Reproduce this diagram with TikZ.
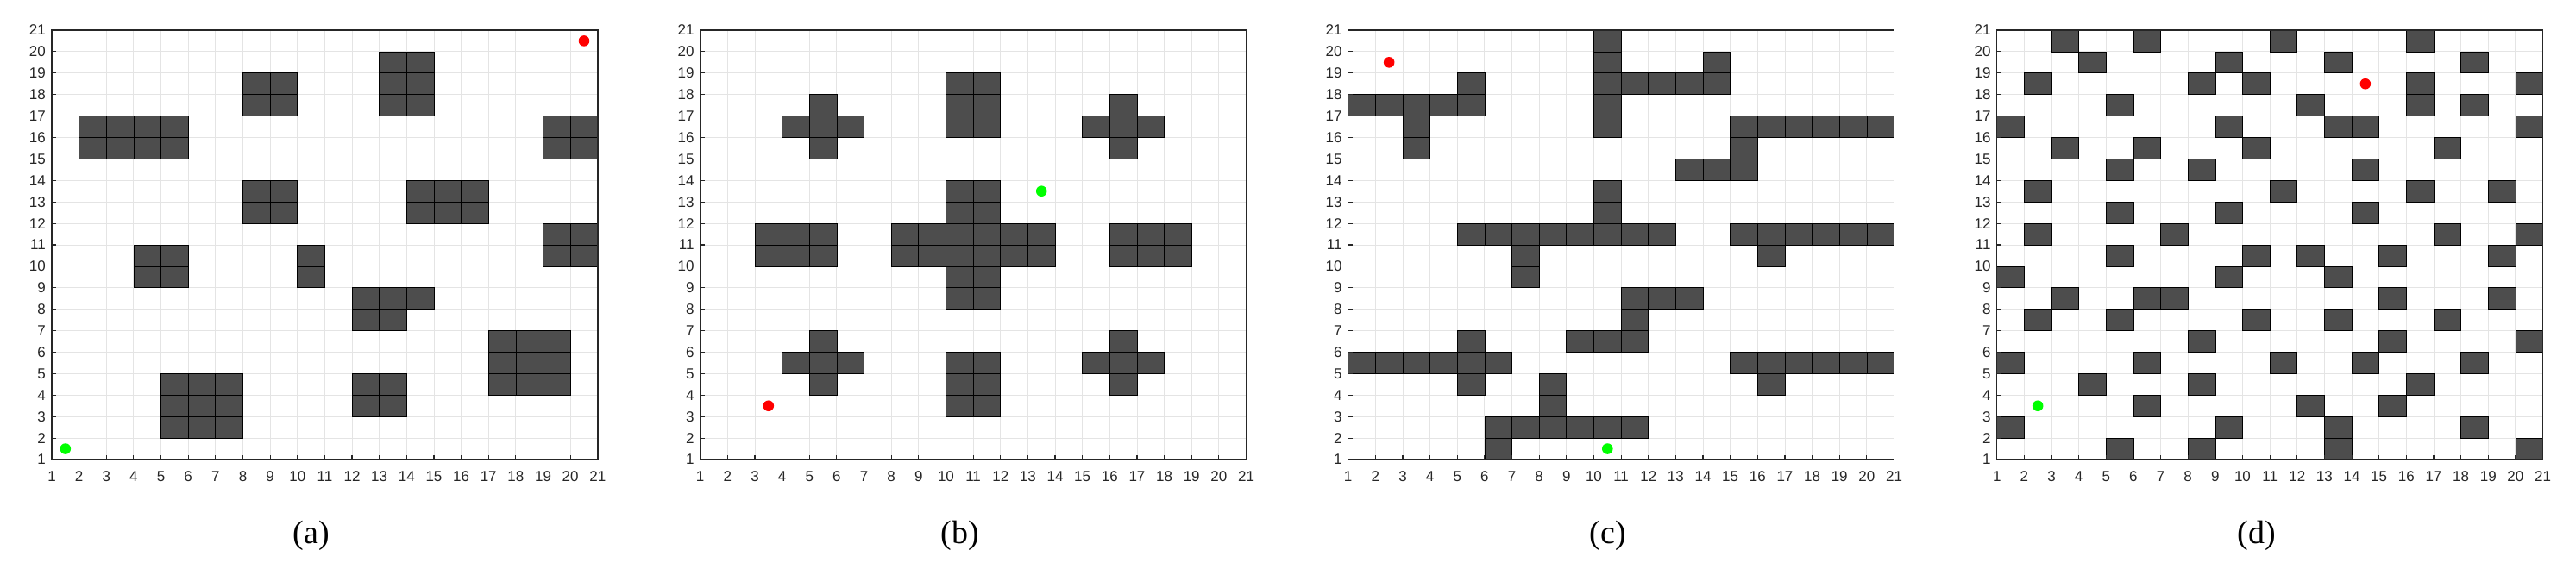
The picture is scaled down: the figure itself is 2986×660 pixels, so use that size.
\documentclass[tikz,border=0pt]{standalone}
\usepackage{fontspec}
\newfontfamily\tickf{Liberation Sans}
\newfontfamily\capf{Liberation Serif}
\definecolor{gridc}{RGB}{228,228,228}
\definecolor{axc}{RGB}{38,38,38}
\definecolor{obstc}{RGB}{77,77,77}
\definecolor{startc}{RGB}{0,255,0}
\definecolor{goalc}{RGB}{255,0,0}
\tikzset{
 gridln/.style={draw=gridc, line width=0.9pt},
 axisbox/.style={draw=axc, line width=1.5pt},
 tickln/.style={draw=axc, line width=1.1pt},
 obst/.style={fill=obstc, draw=black, line width=0.7pt},
 ticklab/.style={font=\tickf\fontsize{17}{20}\selectfont, text=axc, inner sep=0pt},
 caplab/.style={font=\capf\fontsize{38}{44}\selectfont, inner sep=0pt, anchor=base},
 startdot/.style={fill=startc},
 goaldot/.style={fill=goalc},
 panelsc/.style={x=31.64pt, y=24.9pt, xshift=#1, yshift=102.1pt}
}
\newcommand\blk[4]{\foreach \i in {#1,...,#2}{\foreach \j in {#3,...,#4}{\draw[obst] (\i,\j) rectangle ++(1,1);}}}
\newcommand\gridbg{\foreach \v in {1,...,21}{\draw[gridln] (\v,1) -- (\v,21); \draw[gridln] (1,\v) -- (21,\v);}}
\newcommand\axdeco[1]{%
 \draw[axisbox] (1,1) rectangle (21,21);
 \foreach \v in {1,...,21}{
   \draw[tickln] (\v,1) -- ++(0,5pt);
   \draw[tickln] (1,\v) -- ++(5pt,0);
   \node[ticklab, anchor=east] (yl#1\v) at ([xshift=-7pt]1,\v) {\v};
   \node[ticklab] (xl#1\v) at ([yshift=-20pt]\v,1) {\v};
 }}
\begin{document}
\begin{tikzpicture}
\useasboundingbox (0,0) rectangle (2986pt,660pt);
% ---------- (a)
\begin{scope}[panelsc=28.36pt]
 \gridbg
 \blk{2}{5}{15}{16}
 \blk{8}{9}{17}{18}
 \blk{13}{14}{17}{19}
 \blk{19}{20}{15}{16}
 \blk{8}{9}{12}{13}
 \blk{14}{16}{12}{13}
 \blk{19}{20}{10}{11}
 \blk{4}{5}{9}{10}
 \blk{10}{10}{9}{10}
 \blk{12}{13}{7}{8}
 \blk{14}{14}{8}{8}
 \blk{17}{19}{4}{6}
 \blk{5}{7}{2}{4}
 \blk{12}{13}{3}{4}
 \fill[startdot] (1.5,1.5) circle[radius=6.3pt];
 \fill[goaldot] (20.5,20.5) circle[radius=6.3pt];
 \axdeco{a}
\end{scope}
% ---------- (b)
\begin{scope}[panelsc=780.06pt]
 \gridbg
 \blk{4}{6}{16}{16} \blk{5}{5}{15}{15} \blk{5}{5}{17}{17}
 \blk{10}{11}{16}{18}
 \blk{15}{17}{16}{16} \blk{16}{16}{15}{15} \blk{16}{16}{17}{17}
 \blk{3}{5}{10}{11}
 \blk{8}{13}{10}{11} \blk{10}{11}{8}{9} \blk{10}{11}{12}{13}
 \blk{16}{18}{10}{11}
 \blk{4}{6}{5}{5} \blk{5}{5}{4}{4} \blk{5}{5}{6}{6}
 \blk{10}{11}{3}{5}
 \blk{15}{17}{5}{5} \blk{16}{16}{4}{4} \blk{16}{16}{6}{6}
 \fill[startdot] (13.5,13.5) circle[radius=6.3pt];
 \fill[goaldot] (3.5,3.5) circle[radius=6.3pt];
 \axdeco{b}
\end{scope}
% ---------- (c)
\begin{scope}[panelsc=1531.06pt]
 \gridbg
 \blk{1}{5}{17}{17} \blk{5}{5}{18}{18} \blk{3}{3}{15}{16}
 \blk{10}{10}{16}{20} \blk{11}{14}{18}{18} \blk{14}{14}{19}{19}
 \blk{15}{20}{16}{16} \blk{15}{15}{14}{15} \blk{13}{14}{14}{14}
 \blk{10}{10}{12}{13} \blk{5}{12}{11}{11} \blk{7}{7}{9}{10}
 \blk{15}{20}{11}{11} \blk{16}{16}{10}{10}
 \blk{11}{13}{8}{8} \blk{11}{11}{7}{7} \blk{9}{11}{6}{6}
 \blk{1}{6}{5}{5} \blk{5}{5}{6}{6} \blk{5}{5}{4}{4}
 \blk{15}{20}{5}{5} \blk{16}{16}{4}{4}
 \blk{8}{8}{3}{4} \blk{6}{11}{2}{2} \blk{6}{6}{1}{1}
 \fill[startdot] (10.5,1.5) circle[radius=6.3pt];
 \fill[goaldot] (2.5,19.5) circle[radius=6.3pt];
 \axdeco{c}
\end{scope}
% ---------- (d)
\begin{scope}[panelsc=2283.06pt]
 \gridbg
 \foreach \yy/\xs in {20/{3,6,11,16}, 19/{4,9,13,18}, 18/{2,8,10,16,20},
   17/{5,12,16,18}, 16/{1,9,13,14,20}, 15/{3,6,10,17}, 14/{5,8,14},
   13/{2,11,16,19}, 12/{5,9,14}, 11/{2,7,17,20}, 10/{5,10,12,15,19},
   9/{1,9,13}, 8/{3,6,7,15,19}, 7/{2,5,10,13,17}, 6/{8,15,20},
   5/{1,6,11,14,18}, 4/{4,8,16}, 3/{6,12,15}, 2/{1,9,13,18}, 1/{5,8,13,20}}{
   \foreach \xx in \xs {\draw[obst] (\xx,\yy) rectangle ++(1,1);}}
 \fill[startdot] (2.5,3.5) circle[radius=6.3pt];
 \fill[goaldot] (14.5,18.5) circle[radius=6.3pt];
 \axdeco{d}
\end{scope}
% ---------- captions
\node[caplab] (capa) at (361pt,29pt) {(a)};
\node[caplab] (capb) at (1112.5pt,29pt) {(b)};
\node[caplab] (capc) at (1864pt,29pt) {(c)};
\node[caplab] (capd) at (2615.5pt,29pt) {(d)};
\end{tikzpicture}
\end{document}
